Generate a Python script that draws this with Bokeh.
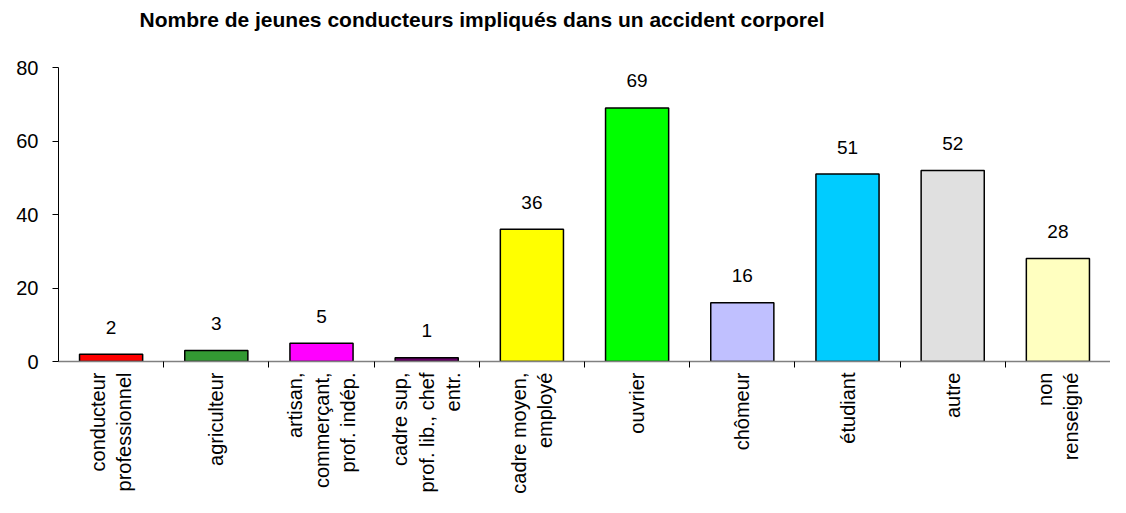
from math import pi
from bokeh.plotting import figure
from bokeh.models import (Range1d, LinearAxis, FixedTicker, ColumnDataSource, Label)
from bokeh.core.properties import value
from bokeh.embed import file_html
from bokeh.resources import INLINE

categories = [
    "conducteur\nprofessionnel",
    "agriculteur",
    "artisan,\ncommerçant,\nprof. indép.",
    "cadre sup,\nprof. lib., chef\nentr.",
    "cadre moyen,\nemployé",
    "ouvrier",
    "chômeur",
    "étudiant",
    "autre",
    "non\nrenseigné",
]
counts = [2, 3, 5, 1, 36, 69, 16, 51, 52, 28]
colors = ["#FF0000", "#339933", "#FF00FF", "#660066", "#FFFF00",
          "#00FF00", "#C0C0FF", "#00CCFF", "#E0E0E0", "#FFFFC0"]
y_ticks = [0, 20, 40, 60, 80]
y_max = 80
title_text = "Nombre de jeunes conducteurs impliqués dans un accident corporel"

FONT = "Liberation Sans"
N = len(categories)
centers = [i + 0.5 for i in range(N)]
bounds = list(range(1, N))

source = ColumnDataSource(dict(x=centers, n=counts, color=colors,
                               label=[str(v) for v in counts]))

# frame extends to the top of the canvas so the title can sit inside it;
# the value axis itself is bounded to 0..80 (80 sits 67px below the top).
PLOT_H, BOTTOM = 497, 136
top_extra = y_max * 67 / (PLOT_H - BOTTOM - 67)

p = figure(width=1110, height=PLOT_H,
           x_range=Range1d(0, N),
           y_range=Range1d(0, y_max + top_extra),
           output_backend="svg", toolbar_location=None,
           x_axis_location=None,
           min_border_left=58, min_border_right=0,
           min_border_top=0, min_border_bottom=BOTTOM)
p.outline_line_color = None
p.xgrid.visible = False
p.ygrid.visible = False
p.background_fill_color = "white"
p.border_fill_color = "white"

# chart title
title = Label(x=0, y=y_max, x_offset=81, y_offset=48, text=title_text,
              text_font=FONT, text_font_size="21px", text_font_style="bold",
              text_color="black", text_align="left", text_baseline="alphabetic")
p.add_layout(title)

# y axis
ya = p.yaxis[0]
ya.ticker = FixedTicker(ticks=y_ticks)
ya.bounds = (0, y_max)
ya.minor_tick_line_color = None
ya.major_tick_out = 6
ya.major_tick_in = 0
ya.axis_line_color = "black"
ya.major_tick_line_color = "black"
ya.major_label_text_font = FONT
ya.major_label_text_font_size = "20px"
ya.major_label_text_color = "black"
ya.major_label_standoff = 14

# category axis: labels at centers, small separator ticks between categories
cat_axis = LinearAxis(ticker=FixedTicker(ticks=centers, minor_ticks=bounds))
cat_axis.major_label_overrides = {c: lab for c, lab in zip(centers, categories)}
cat_axis.axis_line_color = "#808080"
cat_axis.axis_line_width = 1.5
cat_axis.major_tick_line_color = None
cat_axis.major_tick_out = 6
cat_axis.major_tick_in = 0
cat_axis.minor_tick_line_color = "black"
cat_axis.minor_tick_out = 6
cat_axis.minor_tick_in = 0
cat_axis.major_label_orientation = pi / 2
cat_axis.major_label_text_font = FONT
cat_axis.major_label_text_font_size = "20px"
cat_axis.major_label_text_color = "black"
cat_axis.major_label_standoff = 5
p.add_layout(cat_axis, "below")

p.vbar(x="x", top="n", width=0.6, bottom=0, source=source,
       fill_color="color", line_color="black", line_width=1.5)

p.text(x="x", y="n", text="label", source=source,
       text_font=value(FONT), text_font_size="19px", text_color="black",
       text_align="center", text_baseline="middle", y_offset=-27)

open("out.html", "w").write(file_html(p, INLINE))
